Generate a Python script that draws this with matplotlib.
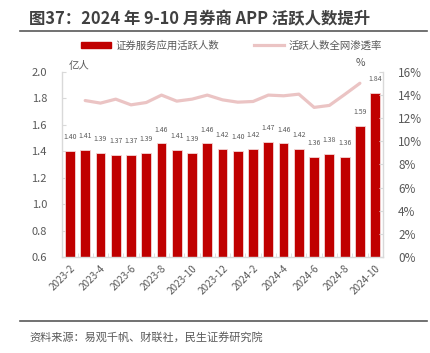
import numpy as np
import matplotlib
matplotlib.use("Agg")
import matplotlib.pyplot as plt
from matplotlib.lines import Line2D
from matplotlib.patches import Patch

plt.rcParams['font.family'] = ['Noto Sans CJK SC', 'DejaVu Sans']

months = ["2023-2", "2023-3", "2023-4", "2023-5", "2023-6", "2023-7", "2023-8",
          "2023-9", "2023-10", "2023-11", "2023-12", "2024-1", "2024-2", "2024-3",
          "2024-4", "2024-5", "2024-6", "2024-7", "2024-8", "2024-9", "2024-10"]
active_users = [1.40, 1.41, 1.39, 1.37, 1.37, 1.39, 1.46, 1.41, 1.39, 1.46, 1.42,
                1.40, 1.42, 1.47, 1.46, 1.42, 1.36, 1.38, 1.36, 1.59, 1.84]
penetration = [np.nan, 13.51, 13.29, 13.63, 13.14, 13.34, 13.98, 13.46, 13.63, 13.98,
               13.57, 13.37, 13.43, 13.98, 13.92, 14.06, 12.92, 13.09, 14.03, 15.0, np.nan]

red = "#C00000"
pink = "#EBC4C4"
grey = "#595959"
spine = "#D9D9D9"

fig = plt.figure(figsize=(4.3, 3.53), dpi=100)
ax = fig.add_axes([0.1449, 0.2711, 0.7453, 0.5259])
ax2 = ax.twinx()

x = np.arange(len(months))
bars = ax.bar(x, active_users, width=0.64, color=red, edgecolor="#F4D6D6", linewidth=0.6, zorder=2)
for xi, v in zip(x, active_users):
    ax.annotate(f"{v:.2f}", (xi, v), xytext=(0, 7), textcoords="offset points",
                ha="center", va="bottom", fontsize=5, color=grey)

ax2.plot(x, penetration, color=pink, linewidth=2.3, solid_capstyle="round", zorder=3)

ax.set_ylim(0.6, 2.0)
ax.set_yticks(np.arange(0.6, 2.01, 0.2))
ax.set_yticklabels([f"{t:.1f}" for t in np.arange(0.6, 2.01, 0.2)])
ax2.set_ylim(0, 16)
ax2.set_yticks(range(0, 17, 2))
ax2.set_yticklabels([f"{t}%" for t in range(0, 17, 2)])
ax.set_xlim(-0.5, len(months) - 0.5)

ax.set_xticks(x[::2])
ax.set_xticklabels(months[::2], rotation=45, ha="right", rotation_mode="anchor",
                   fontsize=7.2, color=grey)
ax.set_xticks(np.arange(-0.5, len(months), 1), minor=True)
ax.tick_params(axis="x", which="major", length=0, pad=4)
ax.tick_params(axis="x", which="minor", length=3, direction="in", color=spine)
ax.tick_params(axis="y", length=3, direction="in", color=spine, labelsize=8,
               labelcolor=grey, pad=11)
ax2.tick_params(axis="y", length=3, direction="in", color=spine, labelsize=8.5,
                labelcolor=grey, pad=11)

for a in (ax, ax2):
    for s in a.spines.values():
        s.set_visible(False)
ax.spines["left"].set_visible(True)
ax.spines["bottom"].set_visible(True)
ax2.spines["right"].set_visible(True)
for s in (ax.spines["left"], ax.spines["bottom"], ax2.spines["right"]):
    s.set_color(spine)
    s.set_linewidth(1)

ax.text(0.02, 1.005, "亿人", transform=ax.transAxes, fontsize=7.5, color=grey, va="bottom")
ax2.text(0.915, 1.02, "%", transform=ax.transAxes, fontsize=7.5, color=grey, va="bottom")

handles = [Patch(facecolor=red, edgecolor=red), Line2D([0], [0], color=pink, linewidth=2.3)]
fig.legend(handles, ["证券服务应用活跃人数", "活跃人数全网渗透率"], loc="center",
           bbox_to_anchor=(0.538, 0.872), ncol=2, frameon=False, fontsize=7.5,
           labelcolor=grey, handlelength=2.9, handleheight=0.5, columnspacing=3.4,
           handletextpad=0.4)

fig.text(0.068, 0.945, "图37：2024 年 9-10 月券商 APP 活跃人数提升", fontsize=11.8,
         fontweight="bold", color="#404040", va="center")
fig.add_artist(Line2D([0.047, 0.993], [0.912, 0.912], color="#595959", linewidth=1.2))
fig.add_artist(Line2D([0.047, 0.993], [0.091, 0.091], color="#595959", linewidth=1.2))
fig.text(0.068, 0.045, "资料来源：易观千帆、财联社，民生证券研究院", fontsize=8,
         color=grey, va="center")

fig.savefig("out.png", dpi=100)
